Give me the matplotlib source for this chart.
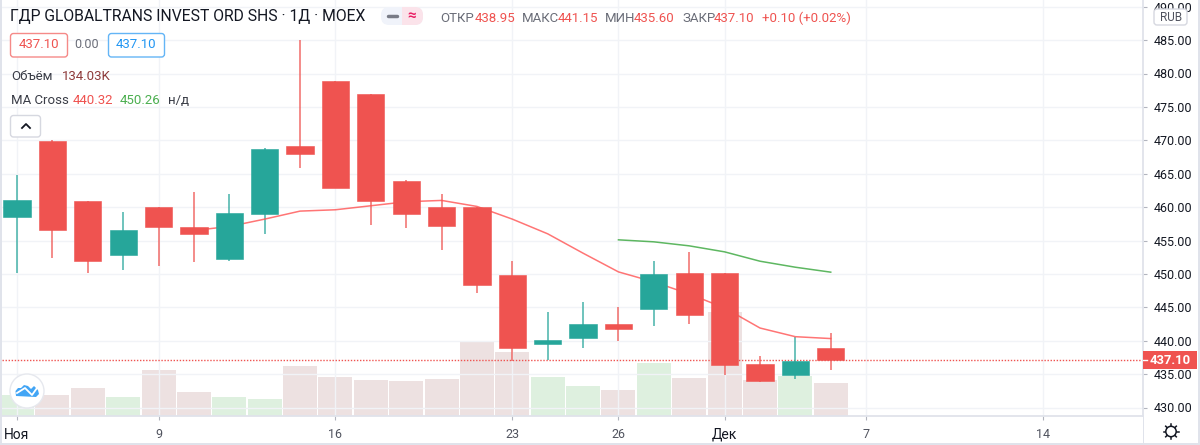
import matplotlib
matplotlib.use("Agg")
import matplotlib.pyplot as plt
from matplotlib.patches import Rectangle, FancyBboxPatch, Circle, Polygon
from matplotlib.lines import Line2D

plt.rcParams['font.family'] = ['Roboto', 'DejaVu Sans']

opens  = [458.5,469.9,460.9,452.8,460.0,457.0,452.2,459.0,469.1,478.9,476.9,463.9,460.0,460.0,449.8,439.5,440.4,442.5,444.7,450.1,450.1,436.5,434.9,438.95]
highs  = [464.8,470.0,460.9,459.3,460.0,462.2,462.0,468.8,485.0,478.9,476.9,464.0,462.0,460.0,451.9,444.3,445.8,445.0,452.0,453.3,450.1,437.7,440.5,441.15]
lows   = [450.1,452.4,450.1,450.6,451.2,451.8,452.0,456.0,465.8,462.9,457.3,456.9,453.6,447.1,437.0,437.1,438.9,440.0,442.2,442.5,434.9,433.8,434.3,435.6]
closes = [461.0,456.6,451.9,456.6,457.0,456.0,459.1,468.7,468.0,462.9,460.9,459.0,457.2,448.3,438.9,440.1,442.5,441.7,450.0,443.8,436.4,434.0,437.0,437.1]
volume_k = [85,85,114,77,187,97,77,69,203,158,146,142,150,305,260,158,122,106,217,154,422,146,162,134]
vol_up = [1,0,0,1,0,0,1,1,0,0,0,0,0,0,0,1,1,0,1,0,0,0,1,0]

ma_fast_x = list(range(5, 24))
ma_fast = [456.5,457.1,458.2,459.4,459.6,460.2,460.8,461.0,460.1,458.2,456.0,453.1,450.3,448.8,447.0,444.9,441.9,440.6,440.32]
ma_slow_x = list(range(17, 24))
ma_slow = [455.1,454.8,454.2,453.3,451.9,451.0,450.26]

x_ticks = [0,4,9,14,17,20,24,29]
x_labels = ['Ноя','9','16','23','26','Дек','7','14']
y_ticks = [430,435,440,445,450,455,460,465,470,475,480,485,490]
last_price = 437.10

RED, GREEN = '#EF5350', '#26A69A'
GRID = '#F1F3F7'
FRAME = '#E0E3EB'
W, H = 1200, 445

fig = plt.figure(figsize=(W/100, H/100), dpi=100, facecolor='white')
L, R, B, T = 2, 1143, 416, 0
rect = [L/W, 1-B/H, (R-L)/W, (B-T)/H]
vol = fig.add_axes(rect, zorder=1)
ax = fig.add_axes(rect, zorder=2, facecolor='none')

xmin, xmax = (L-17)/35.38, (R-17)/35.38
ymin, ymax = 430-(B-407.5)/6.68, 430+(407.5-T)/6.68
for a in (vol, ax):
    a.set_xlim(xmin, xmax)
vol.set_ylim(0, 416*4.06)
ax.set_ylim(ymin, ymax)

# grid + volume
vol.set_yticks([])
vol.set_xticks([])
for s in vol.spines.values():
    s.set_visible(False)
for y in y_ticks:
    ax.axhline(y, color=GRID, lw=1.0, zorder=0)
for x in x_ticks:
    ax.axvline(x, color=GRID, lw=1.0, zorder=0)
for i, v in enumerate(volume_k):
    vol.bar(i, v, width=0.96, color='#4CAF50' if vol_up[i] else '#8B3A3A',
            alpha=0.18 if vol_up[i] else 0.15, lw=0)

# dotted last price
ax.axhline(last_price, color=RED, lw=1, ls=(0, (1, 1.2)), zorder=1)

# candles
for i in range(len(opens)):
    c = GREEN if closes[i] >= opens[i] else RED
    ax.vlines(i, lows[i], highs[i], color=c, lw=1.1, alpha=.85, zorder=2)
ax.plot(ma_fast_x, ma_fast, color='#FF5252', lw=1.1, alpha=.8, zorder=3)
ax.plot(ma_slow_x, ma_slow, color='#4CAF50', lw=1.1, alpha=.9, zorder=3)
for i in range(len(opens)):
    c = GREEN if closes[i] >= opens[i] else RED
    lo, hi = min(opens[i], closes[i]), max(opens[i], closes[i])
    ax.bar(i, hi-lo, bottom=lo, width=0.77, color=c, edgecolor=c, lw=0.4, zorder=4)

# axes styling
ax.yaxis.tick_right()
ax.set_yticks(y_ticks, [f'{v:.2f}' for v in y_ticks])
ax.set_xticks(x_ticks, x_labels)
ax.tick_params(axis='y', length=3, width=0.8, color='#B2B5BE', pad=5, labelsize=9, labelcolor='#131722')
ax.tick_params(axis='x', length=3, width=0.8, color='#B2B5BE', pad=5.5, labelsize=9, labelcolor='#50535E')
for lab, t in zip(ax.get_xticklabels(), x_labels):
    if t in ('Ноя', 'Дек'):
        lab.set_color('#131722')
        lab.set_fontsize(10)
for k, s in ax.spines.items():
    s.set_visible(k in ('right', 'bottom'))
    s.set_color(FRAME)
    s.set_linewidth(1.3)


def px(x, y):
    return x/W, 1-y/H


def txt(x, y, s, color='#131722', size=9, ha='left', **kw):
    return fig.text(*px(x, y), s, color=color, fontsize=size, ha=ha, va='center', zorder=20, **kw)


def box(x0, y0, x1, y1, fc='white', ec='none', lw=1, rad=3, z=15):
    p = FancyBboxPatch((x0, H-y1), x1-x0, y1-y0, boxstyle=f'round,pad=0,rounding_size={rad}',
                       fc=fc, ec=ec, lw=lw, transform=None, zorder=z)
    fig.add_artist(p)
    return p


def line(xs, ys, color, lw=1, z=21, **kw):
    fig.add_artist(Line2D(xs, [H-y for y in ys], color=color, lw=lw, transform=None, zorder=z, **kw))


def fill(x0, y0, x1, y1, color, z=15):
    fig.add_artist(Rectangle((x0, H-y1), x1-x0, y1-y0, fc=color, ec='none', transform=None, zorder=z))


# outer frame
fill(0, 0, 2, H, FRAME, 30)
fill(1198, 0, W, H, FRAME, 30)
fill(0, 443, W, H, FRAME, 30)

# header
txt(10, 17, 'ГДР GLOBALTRANS INVEST ORD SHS · 1Д · MOEX', size=11.3)
box(381, 7, 423, 25, fc='#F0F3FA', rad=8)
fill(392, 7, 402, 25, '#F0F3FA', 16)
box(402, 7, 423, 25, fc='#FBE3EA', rad=8, z=16)
fill(402, 7, 412, 25, '#FBE3EA', 16)
line([388, 397], [16, 16], '#787B86', lw=2.5, solid_capstyle='round')
txt(412, 15.5, '≈', color='#E91E63', size=11, ha='center', fontweight='bold')
GREY = '#6A6D78'
for x, s in [(440, 'ОТКР'), (522, 'МАКС'), (605, 'МИН'), (682, 'ЗАКР')]:
    txt(x, 18, s, color=GREY, size=9.5)
for x, s in [(475, '438.95'), (558, '441.15'), (634, '435.60'), (714, '437.10'), (762, '+0.10 (+0.02%)')]:
    txt(x, 18, s, color=RED, size=9.5)

box(10.5, 33.5, 67.5, 57, ec='#F58A88', lw=1)
txt(39, 45, '437.10', color=RED, size=9.5, ha='center')
txt(87, 45, '0.00', color=GREY, size=9, ha='center')
box(108.5, 33.5, 164.5, 57, ec='#64B5F6', lw=1)
txt(136.5, 45, '437.10', color='#2196F3', size=9.5, ha='center')

txt(11, 76, 'Объём', color='#3A3D47', size=9.5)
txt(62, 76, '134.03K', color='#8E3B3B', size=9.5)
txt(11, 100, 'MA Cross', color='#3A3D47', size=9.5)
txt(73, 100, '440.32', color=RED, size=9.5)
txt(120, 100, '450.26', color='#4CAF50', size=9.5)
txt(168, 100, 'н/д', color='#3A3D47', size=9.5)

box(10.5, 115.5, 40.5, 137, ec='#D6D8E0', lw=1, z=15)
line([22, 26, 30], [128, 124, 128], '#131722', lw=1.3, z=21)

# RUB box
box(1154, 9, 1187, 25, ec='#D6D8E0', lw=1)
txt(1171, 17.5, 'RUB', color='#50535E', size=8.5, ha='center')

# last price label
fill(1143, 351, 1197, 369, RED)
line([1143, 1147], [360, 360], 'white', lw=1)
txt(1170, 360.5, f'{last_price:.2f}', color='white', size=9.4, ha='center', fontweight='bold')

# bottom band
fill(1143, 416, 1144, 443, FRAME)
# settings icon
fig.add_artist(Circle((1171, H-431.5), 5.2, fc='white', ec='#131722', lw=1.1, transform=None, zorder=21))
for dx, dy in [(0, 7.5), (0, -7.5), (7.5, 0), (-7.5, 0), (5.3, 5.3), (-5.3, 5.3), (5.3, -5.3), (-5.3, -5.3)]:
    line([1171+dx*0.75, 1171+dx], [431.5+dy*0.75, 431.5+dy], '#131722', lw=1.1)

# logo
fig.add_artist(Circle((27, H-391), 17, fc='white', ec='#E6E8EE', lw=1, transform=None, zorder=16))
blob = [(16, 396), (15.5, 391), (18, 388), (21, 388), (24, 385), (28, 386), (31, 389), (34, 386), (38, 390), (39, 394), (36, 397)]
fig.add_artist(Polygon([(a, H-b) for a, b in blob], closed=True, fc='#42A5F5', ec='none', transform=None, zorder=17))
line([17, 25, 32, 37], [393, 388, 395, 388], 'white', lw=1.3, z=18)

fig.savefig('out.png', dpi=100, facecolor='white')
